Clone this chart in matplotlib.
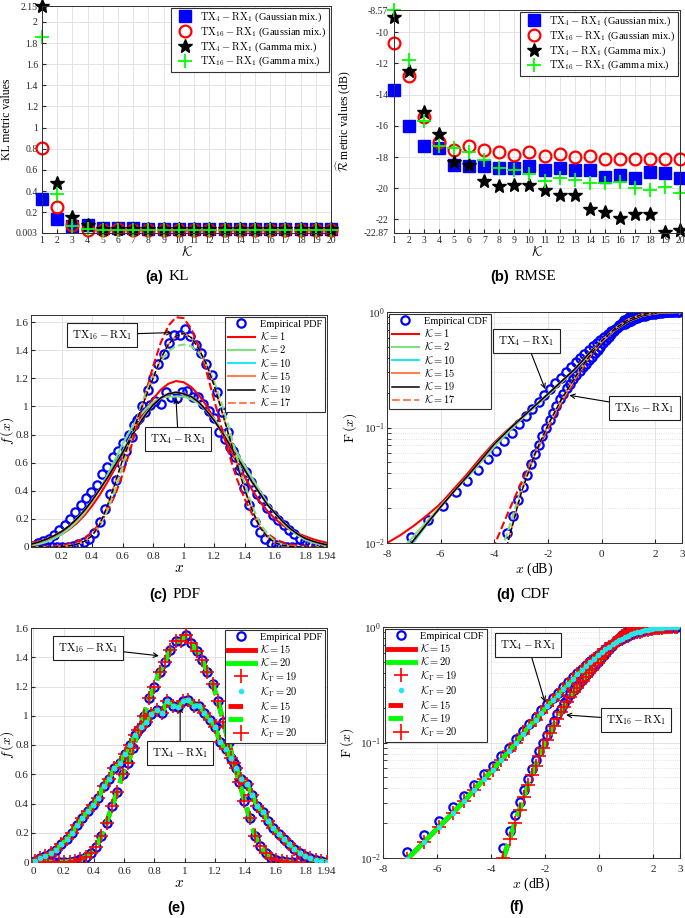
import numpy as np
import matplotlib.pyplot as plt
from matplotlib.lines import Line2D

plt.rcParams['font.family'] = ['Liberation Serif', 'DejaVu Serif']
plt.rcParams['mathtext.fontset'] = 'cm'
plt.rcParams['axes.unicode_minus'] = False

#------------------------------------------------------------
# (a) KL and (b) RMSE versus number of components K
K = list(range(1, 21))
kl_gauss4 = [0.326, 0.134, 0.065, 0.080, 0.052, 0.046, 0.055, 0.043, 0.043, 0.045,
             0.043, 0.043, 0.043, 0.043, 0.042, 0.042, 0.042, 0.042, 0.042, 0.042]
kl_gauss16 = [0.804, 0.250, 0.074, 0.036, 0.036, 0.038, 0.036, 0.036, 0.036, 0.036,
              0.035, 0.035, 0.035, 0.035, 0.035, 0.035, 0.035, 0.035, 0.035, 0.035]
kl_gamma4 = [2.15, 0.477, 0.153, 0.080, 0.043, 0.040, 0.040, 0.038, 0.038, 0.038,
             0.038, 0.038, 0.038, 0.038, 0.038, 0.038, 0.038, 0.038, 0.038, 0.038]
kl_gamma16 = [1.86, 0.376, 0.071, 0.043, 0.036, 0.036, 0.036, 0.036, 0.036, 0.036,
              0.036, 0.036, 0.036, 0.036, 0.036, 0.036, 0.036, 0.036, 0.036, 0.036]

rmse_gauss4 = [-13.72, -16.04, -17.26, -17.40, -18.51, -18.55, -18.57, -18.68, -18.72, -18.58,
               -18.83, -18.72, -18.80, -18.83, -19.26, -19.13, -19.32, -18.94, -19.02, -19.36]
rmse_gauss16 = [-10.70, -12.79, -15.43, -17.04, -17.57, -17.26, -17.55, -17.68, -17.87, -17.66,
                -17.94, -17.79, -17.98, -17.94, -18.10, -18.10, -18.10, -18.10, -18.10, -18.10]
rmse_gamma4 = [-9.00, -12.47, -15.10, -16.55, -18.30, -18.53, -19.51, -19.85, -19.80, -19.81,
               -20.10, -20.43, -20.43, -21.30, -21.55, -21.90, -21.68, -21.62, -22.83, -22.66]
rmse_gamma16 = [-8.57, -11.77, -15.70, -17.30, -17.40, -17.66, -18.20, -18.68, -18.85, -19.07,
                -19.53, -19.32, -19.45, -19.66, -19.68, -19.62, -20.00, -20.13, -19.90, -20.32]

#------------------------------------------------------------
# empirical PDF (linear x) for TX4-RX1 (wide) and TX16-RX1 (narrow)
x4 = [0.01, 0.045, 0.08, 0.115, 0.15, 0.185, 0.22, 0.255, 0.29, 0.325, 0.36, 0.395, 0.43, 0.465,
      0.50, 0.535, 0.57, 0.605, 0.64, 0.675, 0.71, 0.745, 0.78, 0.815, 0.85, 0.885, 0.92, 0.955,
      0.99, 1.025, 1.06, 1.095, 1.13, 1.165, 1.20, 1.235, 1.27, 1.305, 1.34, 1.375, 1.41, 1.445,
      1.48, 1.515, 1.55, 1.585, 1.62, 1.655, 1.69, 1.725, 1.76, 1.795, 1.83, 1.865, 1.90, 1.94]
pdf4_emp = [0.01, 0.03, 0.04, 0.06, 0.085, 0.12, 0.16, 0.20, 0.25, 0.30, 0.35, 0.39, 0.44, 0.52,
            0.57, 0.64, 0.68, 0.74, 0.80, 0.87, 0.92, 0.96, 1.01, 1.04, 1.02, 1.10, 1.07, 1.06,
            1.10, 1.11, 1.07, 1.07, 1.02, 0.97, 0.92, 0.82, 0.77, 0.71, 0.64, 0.57, 0.535, 0.46,
            0.38, 0.34, 0.28, 0.23, 0.19, 0.155, 0.12, 0.09, 0.06, 0.04, 0.025, 0.012, 0.006, 0.003]
x16 = [0.03, 0.065, 0.10, 0.135, 0.17, 0.205, 0.24, 0.275, 0.31, 0.345, 0.38, 0.415, 0.45, 0.485,
       0.52, 0.555, 0.59, 0.625, 0.66, 0.695, 0.73, 0.765, 0.80, 0.835, 0.87, 0.905, 0.94, 0.975,
       1.01, 1.045, 1.08, 1.115, 1.15, 1.185, 1.22, 1.255, 1.29, 1.325, 1.36, 1.395, 1.43, 1.465,
       1.50, 1.535, 1.57, 1.605, 1.64, 1.675, 1.71, 1.745]
pdf16_emp = [0, 0, 0, 0, 0, 0, 0.003, 0.008, 0.02, 0.035, 0.06, 0.10, 0.18, 0.27,
             0.38, 0.48, 0.60, 0.68, 0.78, 0.90, 1.00, 1.12, 1.20, 1.30, 1.37, 1.45, 1.51, 1.51,
             1.55, 1.50, 1.44, 1.38, 1.30, 1.22, 1.10, 0.96, 0.82, 0.68, 0.55, 0.42, 0.30, 0.18,
             0.11, 0.06, 0.03, 0.012, 0.004, 0, 0, 0]

# fitted PDFs read on a 0.05 grid
xg = [0.0, 0.05, 0.1, 0.15, 0.2, 0.25, 0.3, 0.35, 0.4, 0.45, 0.5, 0.55, 0.6, 0.65, 0.7, 0.75,
      0.8, 0.85, 0.9, 0.95, 1.0, 1.05, 1.1, 1.15, 1.2, 1.25, 1.3, 1.35, 1.4, 1.45, 1.5, 1.55,
      1.6, 1.65, 1.7, 1.75, 1.8, 1.85, 1.9, 1.94]
pdf4_k1 = [0.03, 0.04, 0.05, 0.066, 0.09, 0.125, 0.169, 0.225, 0.292, 0.37, 0.46, 0.558, 0.662,
           0.769, 0.873, 0.969, 1.053, 1.118, 1.161, 1.18, 1.172, 1.138, 1.081, 1.005, 0.913,
           0.811, 0.705, 0.599, 0.498, 0.405, 0.322, 0.255, 0.20, 0.155, 0.12, 0.095, 0.075,
           0.055, 0.04, 0.03]
pdf4_k2 = [0.01, 0.02, 0.035, 0.06, 0.09, 0.13, 0.18, 0.24, 0.32, 0.41, 0.51, 0.62, 0.73, 0.83,
           0.92, 0.98, 1.03, 1.06, 1.07, 1.07, 1.07, 1.05, 1.02, 0.97, 0.91, 0.84, 0.76, 0.67,
           0.58, 0.49, 0.40, 0.31, 0.24, 0.17, 0.12, 0.08, 0.05, 0.03, 0.02, 0.01]
pdf4_k10 = [0.02, 0.033, 0.052, 0.078, 0.11, 0.15, 0.20, 0.26, 0.33, 0.41, 0.50, 0.59, 0.68, 0.78,
            0.87, 0.95, 1.01, 1.06, 1.09, 1.10, 1.09, 1.07, 1.03, 0.97, 0.90, 0.82, 0.73, 0.64,
            0.55, 0.46, 0.38, 0.30, 0.24, 0.18, 0.13, 0.09, 0.06, 0.04, 0.025, 0.015]
pdf4_k19 = [0.02, 0.035, 0.055, 0.08, 0.11, 0.15, 0.20, 0.26, 0.33, 0.41, 0.49, 0.58, 0.67, 0.77,
            0.86, 0.94, 1.01, 1.06, 1.09, 1.10, 1.09, 1.07, 1.03, 0.97, 0.90, 0.82, 0.73, 0.64,
            0.55, 0.46, 0.38, 0.30, 0.24, 0.18, 0.13, 0.09, 0.06, 0.04, 0.025, 0.015]
pdf4_k15 = pdf4_k19
pdf16_k1 = [0.001, 0.002, 0.003, 0.0056, 0.011, 0.02, 0.037, 0.063, 0.105, 0.166, 0.253, 0.368,
            0.514, 0.689, 0.885, 1.088, 1.284, 1.452, 1.573, 1.634, 1.628, 1.553, 1.421, 1.247,
            1.048, 0.844, 0.652, 0.483, 0.343, 0.233, 0.152, 0.095, 0.057, 0.033, 0.018, 0.0095,
            0.005, 0.002, 0.001, 0.0005]
pdf16_k2 = [0, 0, 0, 0, 0, 0.01, 0.02, 0.04, 0.08, 0.15, 0.26, 0.40, 0.57, 0.75, 0.93, 1.09,
            1.22, 1.32, 1.39, 1.43, 1.44, 1.43, 1.38, 1.30, 1.18, 1.02, 0.84, 0.64, 0.45, 0.29,
            0.17, 0.09, 0.04, 0.015, 0.005, 0, 0, 0, 0, 0]
pdf16_k19 = [0, 0, 0, 0, 0.003, 0.008, 0.02, 0.04, 0.08, 0.16, 0.29, 0.45, 0.62, 0.76, 0.92, 1.06,
             1.20, 1.34, 1.44, 1.50, 1.52, 1.49, 1.41, 1.30, 1.15, 0.97, 0.78, 0.59, 0.41, 0.26,
             0.14, 0.07, 0.03, 0.012, 0.004, 0.001, 0, 0, 0, 0]

#------------------------------------------------------------
# empirical CDF (x in dB)
x4c = [-7.10, -6.47, -5.93, -5.42, -5.00, -4.62, -4.25, -3.93, -3.62, -3.33, -3.08, -2.83, -2.58,
       -2.35, -2.13, -1.92, -1.72, -1.52, -1.33, -1.15, -0.97, -0.80, -0.64, -0.48, -0.33, -0.18,
       -0.04, 0.10, 0.24, 0.37, 0.50, 0.62, 0.74, 0.86, 0.98, 1.09, 1.20, 1.31, 1.41, 1.51, 1.61,
       1.71, 1.80, 1.89, 1.98, 2.07, 2.16, 2.24, 2.32, 2.40, 2.48, 2.56, 2.64, 2.72, 2.80, 2.88]
cdf4_emp = [0.0112, 0.0158, 0.0210, 0.0275, 0.0345, 0.0432, 0.0532, 0.0630, 0.0770, 0.0905, 0.107,
            0.126, 0.146, 0.167, 0.190, 0.215, 0.242, 0.270, 0.300, 0.332, 0.366, 0.400, 0.434,
            0.469, 0.503, 0.540, 0.575, 0.610, 0.645, 0.678, 0.710, 0.740, 0.768, 0.795, 0.820,
            0.843, 0.864, 0.883, 0.900, 0.915, 0.929, 0.941, 0.952, 0.961, 0.969, 0.976, 0.982,
            0.987, 0.991, 0.994, 0.996, 0.998, 0.999, 1.0, 1.0, 1.0]
cdf4_fit = [0.0098, 0.0138, 0.0186, 0.0245, 0.0310, 0.0390, 0.0485, 0.0580, 0.0710, 0.0840, 0.0995,
            0.118, 0.138, 0.158, 0.181, 0.206, 0.232, 0.260, 0.290, 0.322, 0.356, 0.390, 0.425,
            0.461, 0.496, 0.533, 0.569, 0.605, 0.641, 0.675, 0.707, 0.738, 0.767, 0.794, 0.819,
            0.842, 0.863, 0.882, 0.899, 0.914, 0.928, 0.940, 0.951, 0.960, 0.968, 0.975, 0.981,
            0.986, 0.990, 0.993, 0.995, 0.997, 0.998, 0.999, 1.0, 1.0]
x16c = [-3.54, -3.31, -3.12, -2.94, -2.78, -2.63, -2.49, -2.35, -2.21, -2.07, -1.94, -1.81, -1.68,
        -1.55, -1.42, -1.30, -1.18, -1.06, -0.94, -0.82, -0.70, -0.59, -0.48, -0.37, -0.26, -0.15,
        -0.04, 0.06, 0.17, 0.27, 0.37, 0.47, 0.57, 0.66, 0.76, 0.85, 0.94, 1.03, 1.12, 1.21, 1.29,
        1.38, 1.46, 1.55, 1.63, 1.71, 1.79, 1.87, 1.95, 2.03, 2.10, 2.18, 2.26, 2.33, 2.40]
cdf16_emp = [0.0121, 0.0171, 0.0236, 0.0303, 0.039, 0.0483, 0.059, 0.070, 0.0844, 0.0997, 0.116,
             0.133, 0.153, 0.175, 0.196, 0.218, 0.240, 0.263, 0.285, 0.308, 0.332, 0.355, 0.382,
             0.41, 0.44, 0.47, 0.50, 0.535, 0.57, 0.61, 0.65, 0.69, 0.73, 0.77, 0.81, 0.845,
             0.875, 0.90, 0.925, 0.945, 0.962, 0.975, 0.985, 0.991, 0.995, 0.998, 1.0, 1.0, 1.0,
             1.0, 1.0, 1.0, 1.0, 1.0, 1.0]
cdf16_fit = [0.0100, 0.0145, 0.0200, 0.0262, 0.034, 0.0425, 0.052, 0.063, 0.076, 0.090, 0.105,
             0.121, 0.140, 0.161, 0.182, 0.204, 0.226, 0.249, 0.271, 0.295, 0.319, 0.343, 0.370,
             0.398, 0.428, 0.458, 0.489, 0.524, 0.560, 0.600, 0.640, 0.680, 0.721, 0.762, 0.802,
             0.838, 0.869, 0.895, 0.921, 0.942, 0.959, 0.973, 0.983, 0.990, 0.994, 0.997, 0.999,
             1.0, 1.0, 1.0, 1.0, 1.0, 1.0, 1.0, 1.0]

# fitted CDFs read on a 0.5 dB grid
xc = [-8, -7.5, -7, -6.5, -6, -5.5, -5, -4.5, -4, -3.5, -3, -2.5, -2, -1.5, -1, -0.5,
      0, 0.5, 1, 1.5, 2, 2.5, 3]
cdf4_k1 = [0.0100, 0.0117, 0.0141, 0.0174, 0.0219, 0.0295, 0.0398, 0.055, 0.074, 0.0955, 0.120,
           0.151, 0.191, 0.245, 0.316, 0.427, 0.56, 0.71, 0.84, 0.93, 0.977, 0.995, 1.0]
cdf4_k2 = [0.006, 0.0085, 0.0115, 0.0155, 0.021, 0.028, 0.037, 0.050, 0.068, 0.090, 0.117, 0.150,
           0.190, 0.245, 0.315, 0.42, 0.55, 0.70, 0.83, 0.925, 0.975, 0.995, 1.0]
cdf4_k10 = [0.0045, 0.007, 0.0102, 0.0146, 0.0204, 0.028, 0.038, 0.052, 0.072, 0.094, 0.120, 0.153,
            0.195, 0.25, 0.32, 0.43, 0.56, 0.70, 0.83, 0.925, 0.975, 0.995, 1.0]
cdf4_k19 = [0.005, 0.0075, 0.0106, 0.0148, 0.0205, 0.028, 0.038, 0.052, 0.072, 0.094, 0.120, 0.153,
            0.195, 0.25, 0.32, 0.43, 0.56, 0.70, 0.83, 0.925, 0.975, 0.995, 1.0]
cdf4_k15 = cdf4_k19
cdf16_k1 = [0.0004, 0.0006, 0.0009, 0.0013, 0.0019, 0.0028, 0.0040, 0.0060, 0.0095, 0.018, 0.033,
            0.058, 0.098, 0.16, 0.255, 0.39, 0.55, 0.72, 0.86, 0.95, 0.99, 1.0, 1.0]
cdf16_k2 = [0.0002, 0.0003, 0.0005, 0.0007, 0.001, 0.0015, 0.0023, 0.0036, 0.006, 0.0125, 0.029,
            0.059, 0.103, 0.17, 0.265, 0.40, 0.56, 0.72, 0.86, 0.95, 0.99, 1.0, 1.0]
cdf16_k19 = [0.0001, 0.0002, 0.0003, 0.0005, 0.0008, 0.0012, 0.0018, 0.0028, 0.0045, 0.0100, 0.027,
             0.058, 0.105, 0.175, 0.27, 0.40, 0.56, 0.72, 0.86, 0.95, 0.99, 1.0, 1.0]

#------------------------------------------------------------
BLUE = '#0000ff'; RED = '#ff0000'; LIME = '#00ff00'
LGREEN = '#7fe07f'; CYAN = '#22e8ee'; CORAL = '#ff8052'

fig = plt.figure(figsize=(6.85, 9.18), dpi=100)
W, H = 685.0, 918.0

def add_ax(l, r, t, b):
    return fig.add_axes([l / W, 1 - b / H, (r - l) / W, (b - t) / H])

def style(ax, logy=False, size=8.5):
    ax.grid(True, which='major', color='#e3e3e3', lw=0.7)
    if logy:
        ax.grid(True, which='minor', color='#d8d8d8', lw=0.6, ls=':')
    ax.set_axisbelow(True)
    ax.tick_params(direction='in', labelsize=size, length=3, pad=1.5, colors='#262626', which='both')
    ax.tick_params(axis='x', pad=5 if logy else 3.5)
    for s in ax.spines.values():
        s.set_color('#303030'); s.set_linewidth(0.7)

def leg(ax, handles=None, size=7.5, **kw):
    if handles is None:
        l = ax.legend(fontsize=size, fancybox=False, framealpha=1, edgecolor='#303030',
                      borderpad=0.3, labelspacing=0.12, handletextpad=0.5, borderaxespad=0.15, **kw)
    else:
        l = ax.legend(handles=handles, fontsize=size, fancybox=False, framealpha=1,
                      edgecolor='#303030', borderpad=0.3, labelspacing=0.12,
                      handletextpad=0.5, borderaxespad=0.15, **kw)
    l.get_frame().set_linewidth(0.8)
    return l

def note(ax, text, xy, xytext):
    ax.annotate(text, xy=xy, xytext=xytext, fontsize=8, ha='center', va='center',
                bbox=dict(boxstyle='square,pad=0.45', fc='white', ec='#202020', lw=0.8),
                arrowprops=dict(arrowstyle='->', color='black', lw=0.8, shrinkA=0, shrinkB=0))

def caption(xc, y, tag, name=None):
    if name is None:
        fig.text(xc / W, 1 - y / H, tag, family='Liberation Sans', weight='bold',
                 fontsize=10.5, ha='center', va='center')
    else:
        fig.text(xc / W - 0.004, 1 - y / H, tag, family='Liberation Sans', weight='bold',
                 fontsize=10.5, ha='right', va='center')
        fig.text(xc / W + 0.004, 1 - y / H, name, fontsize=11, ha='left', va='center')

tx4 = r'$\mathrm{TX}_4-\mathrm{RX}_1$'
tx16 = r'$\mathrm{TX}_{16}-\mathrm{RX}_1$'

#------------------------------------------------------------
# (a) KL
ax = add_ax(42, 331, 6, 233)
style(ax, size=7)
ax.plot(K, kl_gauss4, 's', color=BLUE, ms=9, label=tx4 + ' (Gaussian mix.)', clip_on=False)
ax.plot(K, kl_gauss16, 'o', mfc='none', mec=RED, mew=1.6, ms=8.5,
        label=tx16 + ' (Gaussian mix.)', clip_on=False)
ax.plot(K, kl_gamma4, '*', color='black', ms=10, label=tx4 + ' (Gamma mix.)', clip_on=False)
ax.plot(K, kl_gamma16, '+', color=LIME, mew=1.3, ms=10, label=tx16 + ' (Gamma mix.)', clip_on=False)
ax.set_xlim(1, 20)
ax.set_ylim(0.003, 2.15)
ax.set_xticks(K)
ax.set_yticks([0.003, 0.2, 0.4, 0.6, 0.8, 1, 1.2, 1.4, 1.6, 1.8, 2, 2.15])
ax.set_yticklabels(['0.003', '0.2', '0.4', '0.6', '0.8', '1', '1.2', '1.4', '1.6', '1.8', '2', '2.15'])
ax.tick_params(axis='x', pad=2)
ax.tick_params(axis='y', pad=3)
ax.set_xlabel(r'$\mathcal{K}$', fontsize=9.5, labelpad=0)
ax.set_ylabel('KL metric values', fontsize=8.5)
ax.yaxis.set_label_coords(-0.1, 0.5)
leg(ax, loc='upper right')
caption(166, 277, '(a)', 'KL')

#------------------------------------------------------------
# (b) RMSE
ax = add_ax(394, 680, 10, 233)
style(ax, size=7)
ax.plot(K, rmse_gauss4, 's', color=BLUE, ms=9, label=tx4 + ' (Gaussian mix.)', clip_on=False)
ax.plot(K, rmse_gauss16, 'o', mfc='none', mec=RED, mew=1.6, ms=8.5,
        label=tx16 + ' (Gaussian mix.)', clip_on=False)
ax.plot(K, rmse_gamma4, '*', color='black', ms=10, label=tx4 + ' (Gamma mix.)', clip_on=False)
ax.plot(K, rmse_gamma16, '+', color=LIME, mew=1.3, ms=10, label=tx16 + ' (Gamma mix.)', clip_on=False)
ax.set_xlim(1, 20)
ax.set_ylim(-22.87, -8.57)
ax.set_xticks(K)
ax.set_yticks([-22.87, -22, -20, -18, -16, -14, -12, -10, -8.57])
ax.set_yticklabels(['-22.87', '-22', '-20', '-18', '-16', '-14', '-12', '-10', '-8.57'])
ax.tick_params(axis='x', pad=2)
ax.tick_params(axis='y', pad=4)
ax.set_xlabel(r'$\mathcal{K}$', fontsize=9.5, labelpad=0)
ax.set_ylabel(r'$\widehat{\mathcal{R}}$ metric values (dB)', fontsize=8.5)
ax.yaxis.set_label_coords(-0.145, 0.5)
leg(ax, loc='upper right')
caption(512, 277, '(b)', 'RMSE')

#------------------------------------------------------------
# (c) PDF
ax = add_ax(31, 327, 315, 547)
style(ax, size=8)
ax.plot(x4, pdf4_emp, 'o', mfc='none', mec=BLUE, mew=1.6, ms=6, label='Empirical PDF')
ax.plot(x16, pdf16_emp, 'o', mfc='none', mec=BLUE, mew=1.6, ms=6)
ax.plot(xg, pdf4_k1, '-', color=RED, lw=1.5, label=r'$\mathcal{K}=1$')
ax.plot(xg, pdf4_k2, '-', color=LGREEN, lw=1.5, label=r'$\mathcal{K}=2$')
ax.plot(xg, pdf4_k10, '-', color=CYAN, lw=1.5, label=r'$\mathcal{K}=10$')
ax.plot(xg, pdf4_k15, '-', color=CORAL, lw=1.5, label=r'$\mathcal{K}=15$')
ax.plot(xg, pdf4_k19, '-', color='black', lw=1.1, label=r'$\mathcal{K}=19$')
ax.plot(xg, pdf16_k1, '--', color=RED, lw=1.5)
ax.plot(xg, pdf16_k2, '--', color=LGREEN, lw=1.5)
ax.plot(xg, pdf16_k19, '--', color=CORAL, lw=1.5, label=r'$\mathcal{K}=17$')
ax.plot(xg, pdf16_k19, '--', color='black', lw=1.0)
ax.set_xlim(0, 1.94)
ax.set_ylim(0, 1.65)
ax.set_xticks([0.2, 0.4, 0.6, 0.8, 1, 1.2, 1.4, 1.6, 1.8, 1.94])
ax.set_xticklabels(['0.2', '0.4', '0.6', '0.8', '1', '1.2', '1.4', '1.6', '1.8', '1.94'])
ax.set_yticks([0, 0.2, 0.4, 0.6, 0.8, 1, 1.2, 1.4, 1.6])
ax.set_yticklabels(['0', '0.2', '0.4', '0.6', '0.8', '1', '1.2', '1.4', '1.6'])
ax.set_xlabel(r'$x$', fontsize=11, labelpad=1)
ax.set_ylabel(r'$f\,(x)$', fontsize=10)
ax.yaxis.set_label_coords(-0.05, 0.5)
leg(ax, loc='upper right', handlelength=2.6)
note(ax, tx16, xy=(0.925, 1.525), xytext=(0.465, 1.51))
note(ax, tx4, xy=(0.95, 1.06), xytext=(0.965, 0.765))
caption(170, 595, '(c)', 'PDF')

#------------------------------------------------------------
# (d) CDF
ax = add_ax(387, 682, 312, 543)
ax.set_yscale('log')
style(ax, logy=True, size=8)
ax.plot(x4c, cdf4_emp, 'o', mfc='none', mec=BLUE, mew=1.6, ms=6, label='Empirical CDF')
ax.plot(x16c, cdf16_emp, 'o', mfc='none', mec=BLUE, mew=1.6, ms=6)
ax.plot(xc, cdf4_k1, '-', color=RED, lw=1.5, label=r'$\mathcal{K}=1$')
ax.plot(xc, cdf4_k2, '-', color=LGREEN, lw=1.5, label=r'$\mathcal{K}=2$')
ax.plot(xc, cdf4_k10, '-', color=CYAN, lw=1.5, label=r'$\mathcal{K}=10$')
ax.plot(xc, cdf4_k15, '-', color=CORAL, lw=1.5, label=r'$\mathcal{K}=15$')
ax.plot(xc, cdf4_k19, '-', color='black', lw=1.1, label=r'$\mathcal{K}=19$')
ax.plot(xc, cdf16_k1, '--', color=RED, lw=1.5)
ax.plot(xc, cdf16_k2, '--', color=LGREEN, lw=1.5)
ax.plot(xc, cdf16_k19, '--', color=CORAL, lw=1.5, label=r'$\mathcal{K}=17$')
ax.plot(xc, cdf16_k19, '--', color='black', lw=1.0)
ax.set_xlim(-8, 3)
ax.set_ylim(0.01, 1)
ax.set_xticks([-8, -6, -4, -2, 0, 2, 3])
ax.set_xticklabels(['-8', '-6', '-4', '-2', '0', '2', '3'])
ax.set_xlabel(r'$x$ (dB)', fontsize=10, labelpad=1)
ax.set_ylabel(r'$\mathrm{F}\,(x)$', fontsize=10)
ax.yaxis.set_label_coords(-0.095, 0.5)
leg(ax, loc='upper left', handlelength=2.6)
note(ax, tx4, xy=(-2.1, 0.215), xytext=(-2.8, 0.56))
note(ax, tx16, xy=(-1.2, 0.19), xytext=(1.6, 0.148))
caption(518, 595, '(d)', 'CDF')

#------------------------------------------------------------
# (e) PDF, best fits
ax = add_ax(31, 327, 628, 862)
style(ax, size=8)
ax.plot(x4, pdf4_emp, 'o', mfc='none', mec=BLUE, mew=1.6, ms=6, zorder=2)
ax.plot(x16, pdf16_emp, 'o', mfc='none', mec=BLUE, mew=1.6, ms=6, zorder=2)
ax.plot(x4, pdf4_emp, '-', color=RED, lw=3.5, zorder=3)
ax.plot(x4, pdf4_emp, '-', color=LIME, lw=3.5, zorder=3)
ax.plot(x16, pdf16_emp, '--', color=RED, lw=3.5, dashes=(3, 1.5), zorder=3)
ax.plot(x16, pdf16_emp, '--', color=LIME, lw=3.5, dashes=(3, 1.5), zorder=3)
ax.plot(x4, pdf4_emp, '+', color=RED, mew=1.2, ms=10, zorder=4)
ax.plot(x16, pdf16_emp, '+', color=RED, mew=1.2, ms=10, zorder=4)
ax.plot(x4, pdf4_emp, '.', color=CYAN, ms=6, zorder=5)
ax.set_xlim(-0.015, 1.94)
ax.set_ylim(0, 1.6)
ax.set_xticks([0, 0.2, 0.4, 0.6, 0.8, 1, 1.2, 1.4, 1.6, 1.8, 1.94])
ax.set_xticklabels(['0', '0.2', '0.4', '0.6', '0.8', '1', '1.2', '1.4', '1.6', '1.8', '1.94'])
ax.set_yticks([0, 0.2, 0.4, 0.6, 0.8, 1, 1.2, 1.4, 1.6])
ax.set_yticklabels(['0', '0.2', '0.4', '0.6', '0.8', '1', '1.2', '1.4', '1.6'])
ax.set_xlabel(r'$x$', fontsize=11, labelpad=1)
ax.set_ylabel(r'$f\,(x)$', fontsize=10)
ax.yaxis.set_label_coords(-0.05, 0.5)

def best_handles(first):
    return [Line2D([], [], ls='none', marker='o', mfc='none', mec=BLUE, mew=1.6, ms=6, label=first),
            Line2D([], [], color=RED, lw=3.5, label=r'$\mathcal{K}=15$'),
            Line2D([], [], color=LIME, lw=3.5, label=r'$\mathcal{K}=20$'),
            Line2D([], [], ls='none', marker='+', color=RED, mew=1.2, ms=10,
                   label=r'$\mathcal{K}_\Gamma=19$'),
            Line2D([], [], ls='none', marker='.', color=CYAN, ms=6, label=r'$\mathcal{K}_\Gamma=20$'),
            Line2D([], [], color=RED, lw=3.5, ls='--', dashes=(3, 4), label=r'$\mathcal{K}=15$'),
            Line2D([], [], color=LIME, lw=3.5, ls='--', dashes=(3, 4), label=r'$\mathcal{K}=19$'),
            Line2D([], [], ls='none', marker='+', color=RED, mew=1.2, ms=11,
                   label=r'$\mathcal{K}_\Gamma=20$')]

leg(ax, handles=best_handles('Empirical PDF'), loc='upper right', handlelength=2.6)
note(ax, tx16, xy=(0.83, 1.41), xytext=(0.36, 1.465))
note(ax, tx4, xy=(0.97, 1.06), xytext=(0.97, 0.745))
caption(176, 908, '(e)')

#------------------------------------------------------------
# (f) CDF, best fits
ax = add_ax(383, 680, 627, 858)
ax.set_yscale('log')
style(ax, logy=True, size=8)
ax.plot(x4c, cdf4_emp, 'o', mfc='none', mec=BLUE, mew=1.6, ms=6, zorder=2)
ax.plot(x16c, cdf16_emp, 'o', mfc='none', mec=BLUE, mew=1.6, ms=6, zorder=2)
ax.plot(x4c, cdf4_fit, '-', color=RED, lw=3.5, zorder=3)
ax.plot(x4c, cdf4_fit, '-', color=LIME, lw=3.5, zorder=3)
ax.plot(x16c, cdf16_fit, '--', color=RED, lw=3.5, dashes=(3, 1.5), zorder=3)
ax.plot(x16c, cdf16_fit, '--', color=LIME, lw=3.5, dashes=(3, 1.5), zorder=3)
ax.plot(x4c, cdf4_fit, '+', color=RED, mew=1.2, ms=10, zorder=4)
ax.plot(x16c, cdf16_fit, '+', color=RED, mew=1.2, ms=10, zorder=4)
ax.plot(x4c, cdf4_fit, '.', color=CYAN, ms=6, zorder=5)
ax.set_xlim(-8, 3)
ax.set_ylim(0.01, 1)
ax.set_xticks([-8, -6, -4, -2, 0, 2, 3])
ax.set_xticklabels(['-8', '-6', '-4', '-2', '0', '2', '3'])
ax.set_xlabel(r'$x$ (dB)', fontsize=10, labelpad=1)
ax.set_ylabel(r'$\mathrm{F}\,(x)$', fontsize=10)
ax.yaxis.set_label_coords(-0.09, 0.5)
leg(ax, handles=best_handles('Empirical CDF'), loc='upper left', handlelength=2.6)
note(ax, tx4, xy=(-2.0, 0.224), xytext=(-2.63, 0.70))
note(ax, tx16, xy=(-1.22, 0.173), xytext=(1.37, 0.157))
caption(517, 907, '(f)')

fig.savefig('out.png', dpi=100)
